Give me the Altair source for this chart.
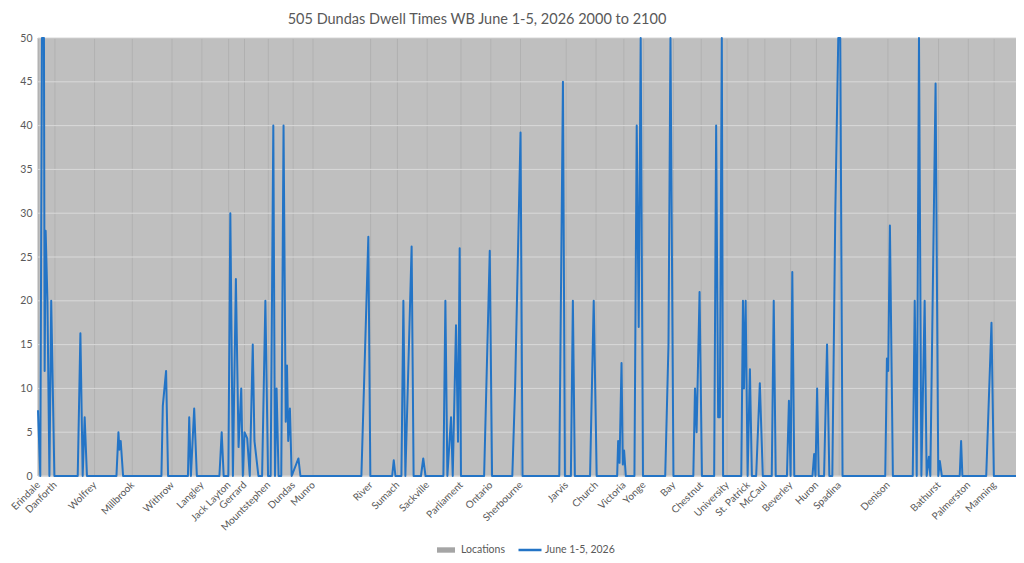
import json
import altair as alt
import pandas as pd

TITLE = "505 Dundas Dwell Times WB June 1-5, 2026 2000 to 2100"
SERIES_LOC = "Locations"
SERIES_LINE = "June 1-5, 2026"

location_names = [
    "Erindale", "Danforth", "Wolfrey", "Millbrook", "Withrow", "Langley",
    "Jack Layton", "Gerrard", "Mountstephen", "Dundas", "Munro", "River",
    "Sumach", "Sackville", "Parliament", "Ontario", "Sherbourne", "Jarvis",
    "Church", "Victoria", "Yonge", "Bay", "Chestnut", "University",
    "St. Patrick", "McCaul", "Beverley", "Huron", "Spadina", "Denison",
    "Bathurst", "Palmerston", "Manning",
]
location_pos = [
    0, 17, 57, 95, 135, 165, 192, 208, 232, 257, 277, 335, 362, 392, 426,
    456, 486, 532, 562, 590, 610, 640, 668, 694, 715, 732, 758, 784, 807,
    856, 907, 937, 963,
]
route_end = 985

# position along route (sample axis) and dwell time (axis capped at 50)
line_pos = [
    0, 2.3, 4, 6, 6.7, 7.7, 9.5, 11.5, 13.3, 16.5,
    40, 42.7, 45, 47, 49.3,
    79, 81, 82, 83.3, 85.7,
    124.3, 125.7, 129, 131,
    151, 152.3, 154, 157.3, 160,
    182.7, 185, 187,
    191.7, 193.7, 196.3, 199.3, 202, 204.7, 206.3, 208, 210.7, 213.3, 216.3, 218, 222,
    225.7, 229, 231.7, 234.3, 237, 238.7, 240.3, 242.3,
    245, 247.3, 249.5, 250.8, 252, 253.7, 255.5, 262.3, 264.3,
    325.7, 332.7, 334.7,
    356.7, 358.3, 360,
    366, 368, 370, 376.3, 378.3,
    385.7, 388, 390.3,
    408.3, 410.3, 412.3, 416, 417.7, 421, 423, 424.7, 426,
    449.3, 455, 457.3,
    477.7, 480.5, 486, 488,
    525, 528.7, 530.7, 536.7, 538.7, 540.7,
    556, 559.7, 562.7,
    583.3, 584.3, 585.7, 587.7, 589, 590.3, 592,
    600.7, 603, 605, 607, 609.3,
    631.7, 635, 637, 640,
    660, 661.7, 663.3, 666.3, 668.7,
    681, 683, 685, 686.7, 688.7, 690,
    708.3, 710, 711, 712.7, 714.7, 717, 719,
    723.3, 727, 730,
    739, 741, 743,
    754.3, 756.3, 758, 759.7, 761.7,
    780, 781.7, 783, 784.7, 786.3,
    791.7, 794.7, 797,
    800, 803, 806, 808, 810.3,
    853.3, 855, 856.3, 858, 861,
    881, 883, 885, 887.3, 889.7, 893, 895, 897.3, 898.7, 904, 906.7, 908.3, 910.3,
    928.3, 929.7, 931,
    955, 960.3, 962.7,
    985,
]
line_values = [
    7.5, 0, 50, 50, 12, 28, 20, 0, 20, 0,
    0, 16.3, 0, 6.7, 0,
    0, 5, 3, 4, 0,
    0, 8, 12, 0,
    0, 6.7, 0, 7.7, 0,
    0, 5, 0,
    0, 30, 0, 22.5, 3.3, 10, 0, 5, 4.3, 0, 15, 4, 0,
    0, 20, 0, 0, 40, 0, 10, 0,
    0, 40, 6.2, 12.6, 4, 7.7, 0, 2, 0,
    0, 27.3, 0,
    0, 1.8, 0,
    0, 20, 0, 26.2, 0,
    0, 2, 0,
    0, 20, 0, 6.7, 0, 17.2, 3.9, 26, 0,
    0, 25.7, 0,
    0, 10, 39.2, 0,
    0, 45, 0, 0, 20, 0,
    0, 20, 0,
    0, 4, 1.5, 12.9, 1.3, 2.9, 0,
    0, 40, 17, 50, 0,
    0, 15, 50, 0,
    0, 10, 5, 21, 0,
    0, 40, 6.7, 6.7, 50, 0,
    0, 20, 10, 20, 0, 12.2, 0,
    0, 10.6, 0,
    0, 20, 0,
    0, 8.6, 0, 23.3, 0,
    0, 2.5, 0, 10, 0,
    0, 15, 0,
    0, 30, 50, 50, 0,
    0, 13.4, 12, 28.6, 0,
    0, 20, 0, 50, 0, 20, 0, 2.2, 0, 44.8, 0, 1.7, 0,
    0, 4, 0,
    0, 17.5, 0,
    0,
]
y_ticks = list(range(0, 51, 5))

FONT = "Lato"
TEXT = "#595959"
BLUE = "#2374c6"
LOC_GRAY = "#a5a5a5"

loc_df = pd.DataFrame({"pos": location_pos, "name": location_names, "series": SERIES_LOC})
loc_df["next_pos"] = loc_df["pos"].shift(-1).fillna(route_end)
line_df = pd.DataFrame({"pos": line_pos, "dwell": line_values, "series": SERIES_LINE})
grid_df = pd.DataFrame({"tick": y_ticks})

label_expr = f"{json.dumps(location_names)}[indexof({json.dumps(location_pos)}, datum.value)]"

x_scale = alt.Scale(domain=[0, route_end], nice=False, zero=False)
x_axis = alt.Axis(
    values=location_pos, labelExpr=label_expr, labelAngle=-45,
    labelAlign="right", labelBaseline="middle", labelPadding=7,
    ticks=False, domain=False, grid=False, labelOverlap=False,
    labelFlush=False, labelBound=False, title=None,
    labelFont=FONT, labelFontSize=10, labelColor=TEXT,
)
x_enc = alt.X("pos:Q", scale=x_scale, axis=x_axis)
y_scale = alt.Scale(domain=[0, 50], nice=False)
y_axis = alt.Axis(
    values=y_ticks, grid=False, ticks=False, domain=False,
    labelPadding=6, title=None,
    labelFont=FONT, labelFontSize=10.5, labelColor=TEXT,
)

# Locations: translucent gray column segments between stops
loc_bars = alt.Chart(loc_df).mark_rect(opacity=0.71).encode(
    x=x_enc,
    x2="next_pos:Q",
    y=alt.YDatum(0, scale=y_scale, axis=y_axis),
    y2=alt.Y2Datum(50),
    fill=alt.Fill(
        "series:N",
        scale=alt.Scale(domain=[SERIES_LOC], range=[LOC_GRAY]),
        legend=alt.Legend(
            orient="none", legendX=399, legendY=503, title=None,
            symbolType="M-1,-0.3H1V0.3H-1Z", symbolSize=324,
            symbolOpacity=1, symbolStrokeWidth=0, labelOffset=6,
            labelFont=FONT, labelFontSize=10.5, labelColor=TEXT,
        ),
    ),
)

loc_lines = alt.Chart(loc_df).mark_rule(strokeWidth=1, color="#b0b0b0").encode(
    x=x_enc,
)

grid = alt.Chart(grid_df).mark_rule(strokeWidth=1, color="#d9d9d9").encode(
    y=alt.Y("tick:Q", scale=y_scale, axis=y_axis),
)

line = alt.Chart(line_df).mark_line(strokeWidth=2, strokeJoin="round").encode(
    x=x_enc,
    y=alt.Y("dwell:Q", scale=y_scale, axis=y_axis),
    stroke=alt.Stroke(
        "series:N",
        scale=alt.Scale(domain=[SERIES_LINE], range=[BLUE]),
        legend=alt.Legend(
            orient="none", legendX=479, legendY=499, title=None,
            symbolType="stroke", symbolSize=529, symbolStrokeWidth=2.5,
            labelOffset=2,
            labelFont=FONT, labelFontSize=10.5, labelColor=TEXT,
        ),
    ),
    order="pos:Q",
)

chart = (
    alt.layer(loc_bars, loc_lines, grid, line)
    .resolve_scale(fill="independent", stroke="independent")
    .properties(
        width=978,
        height=438,
        title=alt.TitleParams(
            TITLE, font=FONT, fontSize=14.5, fontWeight="normal", color=TEXT,
            anchor="middle", dx=-50, offset=6,
        ),
        autosize=alt.AutoSizeParams(type="none"),
        padding={"left": 30, "top": 30, "right": 0, "bottom": 79},
    )
    .configure_view(stroke=None)
    .configure(background="white")
)

chart.save("out.html", embed_options={"renderer": "svg", "actions": False})
